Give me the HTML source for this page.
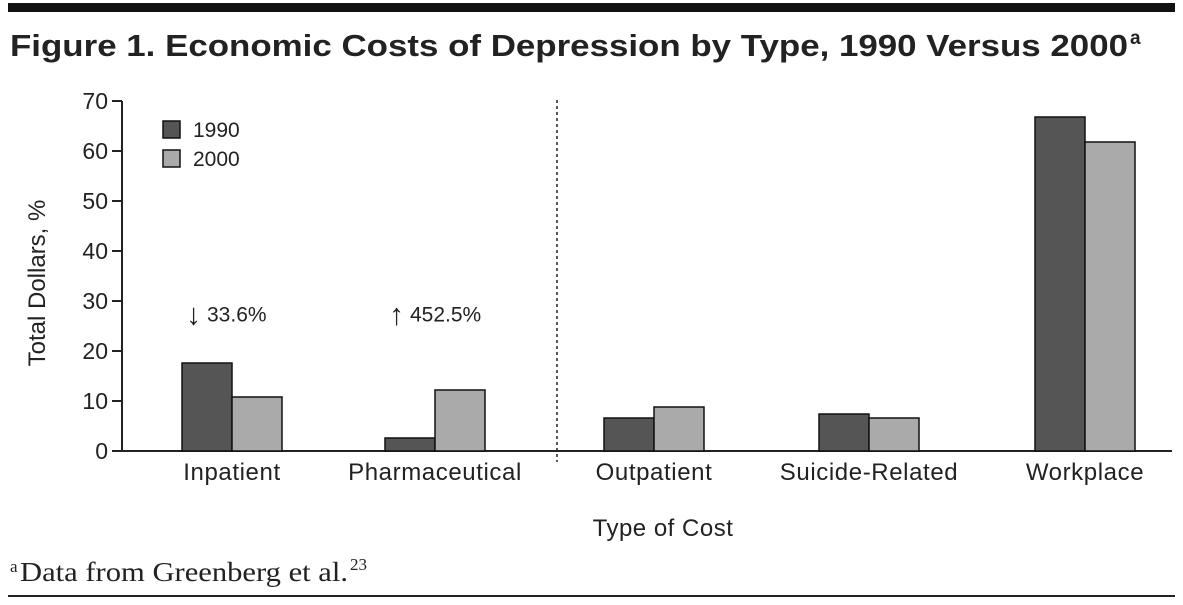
<!DOCTYPE html>
<html><head><meta charset="utf-8"><style>
body{margin:0;background:#fff;width:1183px;height:600px;overflow:hidden;font-family:"Liberation Sans",sans-serif}
</style></head><body>
<svg width="1183" height="600" xmlns="http://www.w3.org/2000/svg">
<rect x="8" y="3" width="1167" height="9" fill="#111"/>
<text x="10" y="56" font-size="31" font-weight="bold" fill="#222" textLength="1118" lengthAdjust="spacingAndGlyphs">Figure 1. Economic Costs of Depression by Type, 1990 Versus 2000</text>
<text x="1130" y="44" font-size="19" font-weight="bold" fill="#222">a</text>
<g id="plot"></g>
<text x="10" y="572" font-family="Liberation Serif,serif" font-size="17" fill="#222">a</text>
<text x="20" y="581" font-family="Liberation Serif,serif" font-size="27" fill="#222" textLength="328" lengthAdjust="spacingAndGlyphs">Data from Greenberg et al.</text>
<text x="350" y="570" font-family="Liberation Serif,serif" font-size="17" fill="#222">23</text>
<rect x="8" y="595" width="1167" height="2" fill="#222"/>
</svg>
<script>
const categories=["Inpatient","Pharmaceutical","Outpatient","Suicide-Related","Workplace"];
const values1990=[17.6,2.6,6.6,7.4,66.8];
const values2000=[10.8,12.2,8.8,6.6,61.8];
const yTicks=[0,10,20,30,40,50,60,70];
const annotations=[{cat:0,arrow:"↓",text:"33.6%",v:27.5},{cat:1,arrow:"↑",text:"452.5%",v:27.5}];
const NS="http://www.w3.org/2000/svg";
const g=document.getElementById('plot');
const x0=122,x1=1172,y0=451,pxPer=5;
const centers=[232,435,654,869,1085];
const y=v=>y0-v*pxPer;
const xc=i=>centers[i];
function el(t,a,txt){const e=document.createElementNS(NS,t);for(const k in a)e.setAttribute(k,a[k]);if(txt!=null)e.textContent=txt;g.appendChild(e);return e;}
let e=el('line',{x1:x0,y1:y0,x2:x1,y2:y0,stroke:'#222','stroke-width':2});

e=el('line',{x1:x0,y1:y(70),x2:x0,y2:y0,stroke:'#222','stroke-width':2});

yTicks.forEach(t=>{
 let l=el('line',{x1:x0-10,y1:y(t),x2:x0,y2:y(t),stroke:'#222','stroke-width':2});
 
 let tx=el('text',{x:x0-14,y:y(t)+8,'text-anchor':'end','font-size':23,fill:'#222'},t);
 
});
e=el('line',{x1:557,y1:100,x2:557,y2:462,stroke:'#222','stroke-width':1.5,'stroke-dasharray':'3,3'});

categories.forEach((c,i)=>{
 let b=el('rect',{x:xc(i)-50,y:y(values1990[i]),width:50,height:values1990[i]*pxPer,fill:'#555',stroke:'#111','stroke-width':1.5});
 
 b=el('rect',{x:xc(i),y:y(values2000[i]),width:50,height:values2000[i]*pxPer,fill:'#aaa',stroke:'#111','stroke-width':1.5});
 
 let t=el('text',{x:xc(i),y:480,'text-anchor':'middle','font-size':24,'letter-spacing':0.6,fill:'#222'},c);
 
});
annotations.forEach(a=>{
 let ar=el('text',{x:xc(a.cat)-46,y:y(a.v)+11,'font-size':30,fill:'#222'},a.arrow);
 
 let t=el('text',{x:xc(a.cat)-25,y:y(a.v)+8,'font-size':21,fill:'#222'},a.text);
 
});
e=el('text',{x:663,y:536,'text-anchor':'middle','font-size':24,'letter-spacing':0.5,fill:'#222'},'Type of Cost');

e=el('text',{x:0,y:0,'text-anchor':'middle','font-size':24,fill:'#222',transform:'translate(45,283) rotate(-90)'},'Total Dollars, %');

[['1990','#555',121],['2000','#aaa',150]].forEach(([lab,col,yy])=>{
 let r=el('rect',{x:163,y:yy,width:17,height:17,fill:col,stroke:'#111','stroke-width':1.5});
 
 let t=el('text',{x:193,y:yy+16,'font-size':21,fill:'#222'},lab);
 
});
</script>
</body></html>
